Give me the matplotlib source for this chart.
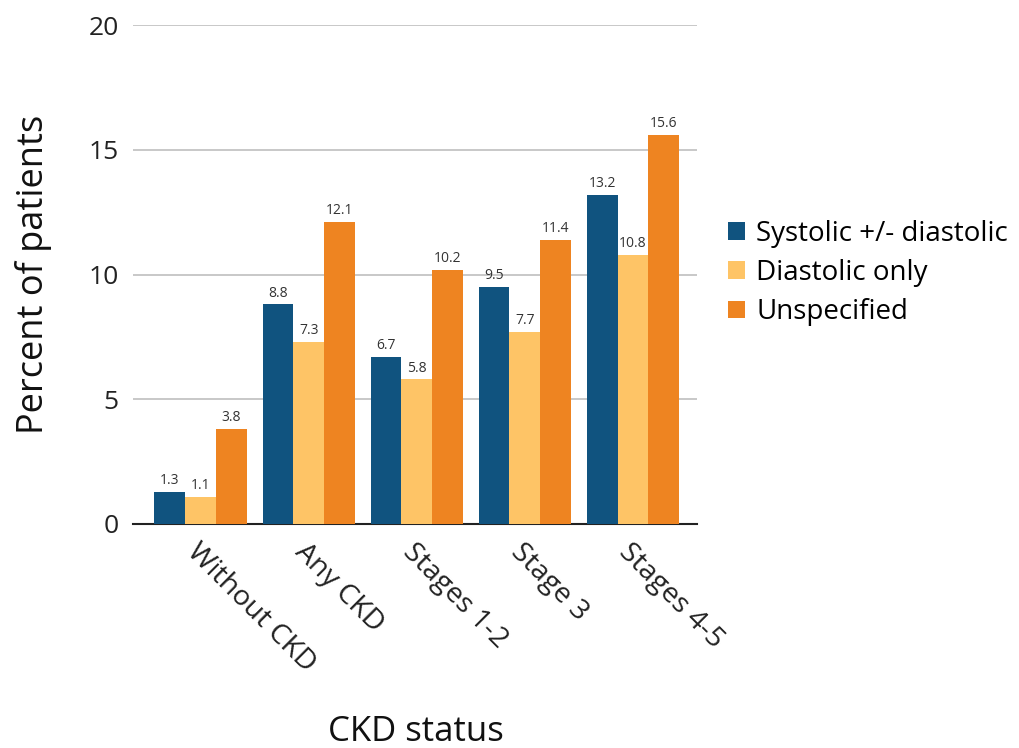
import matplotlib.pyplot as plt
import numpy as np

plt.rcParams['font.family'] = ['Open Sans', 'DejaVu Sans']

categories = ["Without CKD", "Any CKD", "Stages 1-2", "Stage 3", "Stages 4-5"]
systolic = [1.3, 8.8, 6.7, 9.5, 13.2]
diastolic = [1.1, 7.3, 5.8, 7.7, 10.8]
unspecified = [3.8, 12.1, 10.2, 11.4, 15.6]

series = [
    ("Systolic +/- diastolic", systolic, "#10537f"),
    ("Diastolic only", diastolic, "#fec466"),
    ("Unspecified", unspecified, "#ee8421"),
]

fig = plt.figure(figsize=(10.2, 7.48), dpi=100)
ax = fig.add_axes([0.130, 0.2995, 0.553, 0.667])

x = np.arange(len(categories))
w = 0.285
for i, (name, vals, col) in enumerate(series):
    bars = ax.bar(x + (i - 1) * w, vals, w, color=col, label=name, zorder=3)
    for b, v in zip(bars, vals):
        ax.text(b.get_x() + b.get_width() / 2, v + 0.15, f"{v:.1f}",
                ha="center", va="bottom", fontsize=10, color="#333333")

ax.set_ylim(0, 20)
ax.set_xlim(-0.63, 4.59)
ax.set_yticks([0, 5, 10, 15, 20])
ax.yaxis.grid(True, color="#bfbfbf", linewidth=1.2, zorder=0)
for s in ["top", "right", "left"]:
    ax.spines[s].set_visible(False)
ax.spines["bottom"].set_color("#222222")
ax.spines["bottom"].set_linewidth(1.5)
ax.tick_params(axis="y", length=0, pad=10, labelsize=19, labelcolor="#222222")
ax.tick_params(axis="x", length=0, pad=10, labelsize=20.5, labelcolor="#222222")
ax.set_xticks(x)
ax.set_xticklabels(categories, rotation=-45, ha="left", va="top",
                   rotation_mode="anchor")

ax.set_ylabel("Percent of patients", fontsize=26, color="#111111", labelpad=26)
fig.text(0.408, -0.002, "CKD status", ha="center", va="bottom", fontsize=25,
         color="#111111")

ax.legend(loc="center left", bbox_to_anchor=(1.012, 0.503), frameon=False,
          fontsize=20, handlelength=0.6, handleheight=0.6, handletextpad=0.4,
          labelspacing=0.4)

fig.savefig("out.png", dpi=100)
